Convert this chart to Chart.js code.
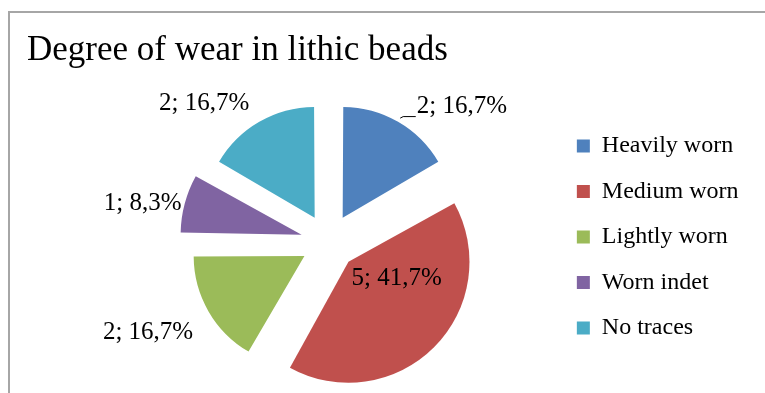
<!DOCTYPE html>
<html>
<head>
<meta charset="utf-8">
<script src="https://cdn.jsdelivr.net/npm/chart.js@4/dist/chart.umd.min.js"></script>
<style>
  body { margin: 0; background: #fff; }
  #frame {
    position: absolute; left: 8px; top: 11px; width: 800px; height: 420px;
    border-top: 2px solid #a6a6a6; border-left: 2px solid #a6a6a6;
  }
  #chart { position: absolute; left: 0; top: 0; }
</style>
</head>
<body>
<div id="frame"></div>
<canvas id="chart" width="765" height="393"></canvas>
<script>
const title = "Degree of wear in lithic beads";
const categories = ["Heavily worn", "Medium worn", "Lightly worn", "Worn indet", "No traces"];
const values = [2, 5, 2, 1, 2];
const colors = ["#4F81BD", "#C0504D", "#9BBB59", "#8064A2", "#4BACC6"];

// where each data label sits, measured from its (exploded) slice tip: angle in degrees, distance in px
const labelAngle = [-43, 19, 154, -169, -134];
const labelDist = [163, 51, 174, 162, 159];
const labelLeader = [true, false, false, false, false];

const serif = "'Liberation Serif', 'Times New Roman', serif";
const plotInsetLeft = 75;
const plotInsetTop = 10;

// move the pie inside its area (legend overlaps the plot in the original)
const plotShift = {
  id: "plotShift",
  afterLayout(chart) {
    const a = chart.chartArea;
    a.left += plotInsetLeft;
    a.top += plotInsetTop;
    a.width = a.right - a.left;
    a.height = a.bottom - a.top;
  },
};

const pieLabels = {
  id: "pieLabels",
  afterDatasetsDraw(chart) {
    const ctx = chart.ctx;
    const meta = chart.getDatasetMeta(0);
    const total = values.reduce((a, b) => a + b, 0);
    ctx.save();
    ctx.font = "25px " + serif;
    ctx.fillStyle = "#000";
    ctx.strokeStyle = "#000";
    ctx.lineWidth = 1;
    ctx.textAlign = "center";
    ctx.textBaseline = "middle";
    meta.data.forEach((arc, i) => {
      const mid = (arc.startAngle + arc.endAngle) / 2;
      const shift = arc.options.offset / 4;
      const tipX = arc.x + Math.cos(mid) * shift;
      const tipY = arc.y + Math.sin(mid) * shift;
      const ang = (labelAngle[i] * Math.PI) / 180;
      const x = tipX + Math.cos(ang) * labelDist[i];
      const y = tipY + Math.sin(ang) * labelDist[i];
      const pct = ((values[i] / total) * 100).toFixed(1).replace(".", ",");
      const text = values[i] + "; " + pct + "%";
      ctx.fillText(text, x, y);
      if (labelLeader[i]) {
        const w = ctx.measureText(text).width;
        const ex = tipX + Math.cos(mid) * (arc.outerRadius + 8);
        const ey = tipY + Math.sin(mid) * (arc.outerRadius + 8);
        ctx.beginPath();
        ctx.moveTo(ex, ey);
        ctx.lineTo(ex + 3, y + 10);
        ctx.lineTo(x - w / 2 - 1, y + 10);
        ctx.stroke();
      }
    });
    ctx.restore();
  },
};

Chart.defaults.color = "#000";

new Chart(document.getElementById("chart"), {
  type: "pie",
  data: {
    labels: categories,
    datasets: [
      {
        data: values,
        backgroundColor: colors,
        borderWidth: 0,
        offset: 112,
      },
    ],
  },
  options: {
    responsive: false,
    animation: false,
    radius: 107,
    layout: { padding: { left: 27, right: 16.5, top: 0, bottom: 0 } },
    plugins: {
      title: {
        display: true,
        text: title,
        align: "start",
        color: "#000",
        font: { family: serif, size: 35, weight: "normal" },
        padding: { top: 30, bottom: 9 },
      },
      legend: {
        position: "right",
        fullSize: false,
        labels: {
          boxWidth: 13,
          boxHeight: 13,
          padding: 21.5,
          color: "#000",
          font: { family: serif, size: 24 },
        },
      },
      tooltip: { enabled: false },
    },
  },
  plugins: [plotShift, pieLabels],
});
</script>
</body>
</html>
